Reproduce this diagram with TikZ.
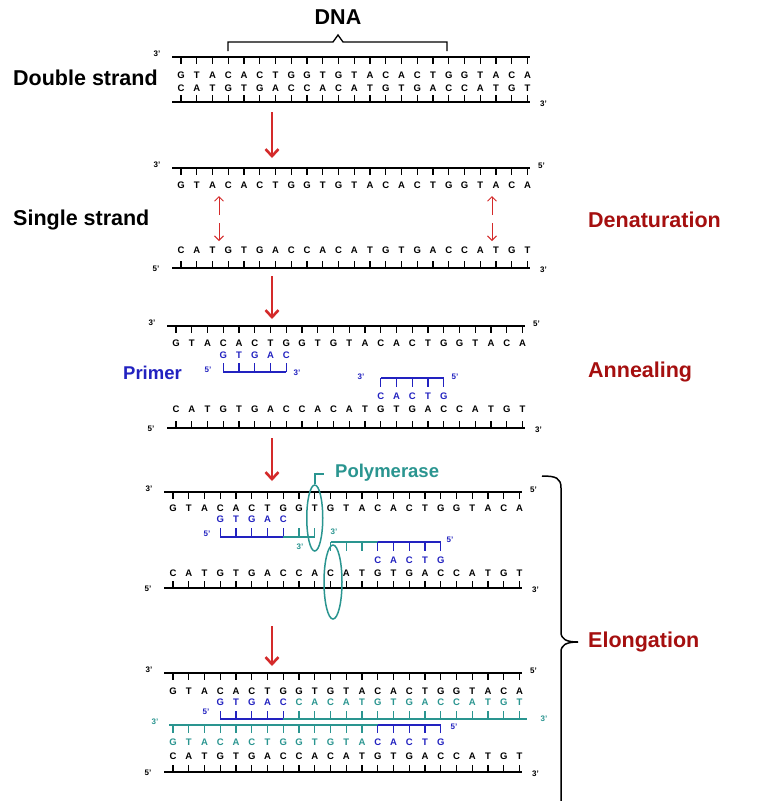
\documentclass[tikz,border=0pt]{standalone}
\usepackage{fontspec}
\setmainfont{Liberation Sans}
\usetikzlibrary{arrows.meta,shapes.geometric}

\definecolor{pcrred}{HTML}{D42A2A}
\definecolor{stepred}{HTML}{A50F0F}
\definecolor{primerblue}{HTML}{2222C0}
\definecolor{newteal}{HTML}{2A9590}

\tikzset{
  base/.style={font=\fontsize{9.5}{10}\selectfont\bfseries, inner sep=0pt},
  endlbl/.style={font=\fontsize{8}{9}\selectfont\bfseries, inner sep=0pt},
  title/.style={font=\fontsize{21.5}{23}\selectfont\bfseries, inner sep=0pt},
  subtitle/.style={font=\fontsize{18.5}{20}\selectfont\bfseries, inner sep=0pt},
  backbone/.style={line width=1.5pt},
  tickline/.style={line width=1.2pt},
  stepflow/.style={pcrred, line width=2.6pt, -{Straight Barb[length=7pt,width=13pt]}},
  pairarrow/.style={pcrred, line width=1pt, -{Straight Barb[length=4.5pt,width=9pt]}},
  polring/.style={draw=newteal, ellipse, line width=1.5pt, inner sep=0pt},
}

% letters of one row: name, x of index 0, first index, y, colour, letters
\newcommand\baserow[6]{%
  \foreach \b [count=\i from #3] in {#6}
    \node[base,text=#5] (#1-\i) at ({#2+\i*15.75},#4) {\b};}
% ticks of one row: x of index 0, first index, last index, backbone y, signed length, colour
\newcommand\tickrow[6]{%
  \foreach \i in {#2,...,#3}
    \draw[#6,tickline] ({#1+\i*15.75},#4) -- ++(0,#5);}
% a full template strand pair: name, x0, top backbone y, top letters y, bottom letters y, bottom backbone y, top right end, bottom left end
\newcommand\duplex[8]{%
  \draw[backbone] ({#2-9},#3) -- ({#2+22*15.75+2},#3);
  \tickrow{#2}{0}{22}{#3}{7}{black}
  \baserow{#1t}{#2}{0}{#4}{black}{G,T,A,C,A,C,T,G,G,T,G,T,A,C,A,C,T,G,G,T,A,C,A}
  \baserow{#1b}{#2}{0}{#5}{black}{C,A,T,G,T,G,A,C,C,A,C,A,T,G,T,G,A,C,C,A,T,G,T}
  \tickrow{#2}{0}{22}{#6}{-7}{black}
  \draw[backbone] ({#2-9},#6) -- ({#2+22*15.75+2},#6);
  \node[endlbl] (#1-tl) at ({#2-24},{#3-3}) {3'};
  \node[endlbl] (#1-tr) at ({#2+22*15.75+14},{#3-2}) {#7};
  \node[endlbl] (#1-bl) at ({#2-25},{#6+1}) {#8};
  \node[endlbl] (#1-br) at ({#2+22*15.75+16},{#6+2}) {3'};}

\begin{document}
\begin{tikzpicture}[x=1pt,y=-1pt]
\useasboundingbox[fill=white] (0,0) rectangle (774,801);

% ---------- double strand ----------
\node[title] (dna) at (338,17) {DNA};
\draw[line width=1.3pt] (228,51) -- (228,42) -- (333,42) -- (338,35) -- (343,42) -- (447,42) -- (447,51);
\node[title,anchor=west] (ds) at (13,78) {Double strand};
\duplex{s1}{181}{57}{75}{88}{102}{}{}
\coordinate (a1s) at (272,112); \coordinate (a1e) at (272,158);
\draw[stepflow] (a1s) -- (a1e);

% ---------- denaturation ----------
\node[title,anchor=west] (ss) at (13,220) {Single strand};
\node[title,anchor=west,text=stepred] (den) at (588,220) {Denaturation};
\duplex{s2}{181}{168}{185}{250}{268}{5'}{5'}
\foreach \x [count=\k] in {219,492} {
  \coordinate (pu\k) at (\x,215); \coordinate (pv\k) at (\x,196);
  \coordinate (qu\k) at (\x,223); \coordinate (qv\k) at (\x,241);
  \draw[pairarrow] (pu\k) -- (pv\k);
  \draw[pairarrow] (qu\k) -- (qv\k);
}
\coordinate (a2s) at (272,276); \coordinate (a2e) at (272,319);
\draw[stepflow] (a2s) -- (a2e);

% ---------- annealing ----------
\node[title,anchor=west,text=stepred] (ann) at (588,372) {Annealing};
\node[subtitle,anchor=west,text=primerblue] (prm) at (123,373) {Primer};
\duplex{s3}{176}{326}{343}{409}{428}{5'}{5'}
% forward primer
\baserow{p1}{176}{3}{355}{primerblue}{G,T,G,A,C}
\draw[primerblue,backbone] ({176+3*15.75},372) -- ({176+7*15.75},372);
\tickrow{176}{3}{7}{372}{-9}{primerblue}
\node[endlbl,text=primerblue] (p1a) at (208,370) {5'};
\node[endlbl,text=primerblue] (p1b) at (297,373) {3'};
% reverse primer
\baserow{p2}{176}{13}{396}{primerblue}{C,A,C,T,G}
\draw[primerblue,backbone] ({176+13*15.75},378) -- ({176+17*15.75},378);
\tickrow{176}{13}{17}{378}{9}{primerblue}
\node[endlbl,text=primerblue] (p2a) at (361,377) {3'};
\node[endlbl,text=primerblue] (p2b) at (455,377) {5'};
\coordinate (a3s) at (272,438); \coordinate (a3e) at (272,481);
\draw[stepflow] (a3s) -- (a3e);

% ---------- elongation, early ----------
\duplex{s4}{173}{492}{508}{573}{588}{5'}{5'}
\baserow{e1}{173}{3}{519}{primerblue}{G,T,G,A,C}
\draw[primerblue,backbone] ({173+3*15.75},537) -- ({173+7*15.75},537);
\tickrow{173}{3}{7}{537}{-9}{primerblue}
\draw[newteal,backbone] ({173+7*15.75},537) -- ({173+9*15.75},537);
\tickrow{173}{8}{9}{537}{-9}{newteal}
\node[endlbl,text=primerblue] (e1a) at (207,534) {5'};
\node[endlbl,text=newteal] (e1b) at (300,547) {3'};

\baserow{e2}{173}{13}{560}{primerblue}{C,A,C,T,G}
\draw[newteal,backbone] ({173+10*15.75},542) -- ({173+13*15.75},542);
\tickrow{173}{10}{12}{542}{9}{newteal}
\draw[primerblue,backbone] ({173+13*15.75},542) -- ({173+17*15.75},542);
\tickrow{173}{13}{17}{542}{9}{primerblue}
\node[endlbl,text=newteal] (e2a) at (334,532) {3'};
\node[endlbl,text=primerblue] (e2b) at (450,540) {5'};

\node[polring,minimum width=16pt,minimum height=66pt] (pol1) at ({173+9*15.75},518) {};
\node[polring,minimum width=18pt,minimum height=74pt] (pol2) at (333,582) {};
\coordinate (polend) at (324,474);
\draw[newteal,line width=1.5pt] (pol1.north) |- (polend);
\node[subtitle,anchor=west,text=newteal] (polname) at (335,473) {Polymerase};

\coordinate (a4s) at (272,626); \coordinate (a4e) at (272,666);
\draw[stepflow] (a4s) -- (a4e);

% ---------- elongation, extended ----------
\duplex{s5}{173}{673}{691}{756}{772}{5'}{5'}
% new strand on the upper template
\baserow{n1}{173}{3}{702}{primerblue}{G,T,G,A,C}
\baserow{n1}{173}{8}{702}{newteal}{C,A,C,A,T,G,T,G,A,C,C,A,T,G,T}
\draw[primerblue,backbone] ({173+3*15.75},719) -- ({173+7*15.75},719);
\tickrow{173}{3}{7}{719}{-8}{primerblue}
\draw[newteal,backbone] ({173+7*15.75},719) -- (527,719);
\tickrow{173}{8}{22}{719}{-8}{newteal}
\node[endlbl,text=primerblue] (n1a) at (206,712) {5'};
\node[endlbl,text=newteal] (n1b) at (544,719) {3'};
% new strand on the lower template
\draw[newteal,backbone] (169,725) -- ({173+13*15.75},725);
\tickrow{173}{0}{12}{725}{8}{newteal}
\draw[primerblue,backbone] ({173+13*15.75},725) -- ({173+17*15.75},725);
\tickrow{173}{13}{17}{725}{8}{primerblue}
\baserow{n2}{173}{0}{742}{newteal}{G,T,A,C,A,C,T,G,G,T,G,T,A}
\baserow{n2}{173}{13}{742}{primerblue}{C,A,C,T,G}
\node[endlbl,text=newteal] (n2a) at (155,722) {3'};
\node[endlbl,text=primerblue] (n2b) at (454,727) {5'};

% ---------- elongation brace ----------
\draw[line width=1.5pt] (542,476) .. controls (556,476) and (561,478) .. (561,488)
  -- (561,632) .. controls (561,639) and (566,642) .. (578,642);
\draw[line width=1.5pt] (578,642) .. controls (566,642) and (561,645) .. (561,652) -- (561,801);
\node[title,anchor=west,text=stepred] (elo) at (588,642) {Elongation};
\end{tikzpicture}
\end{document}
